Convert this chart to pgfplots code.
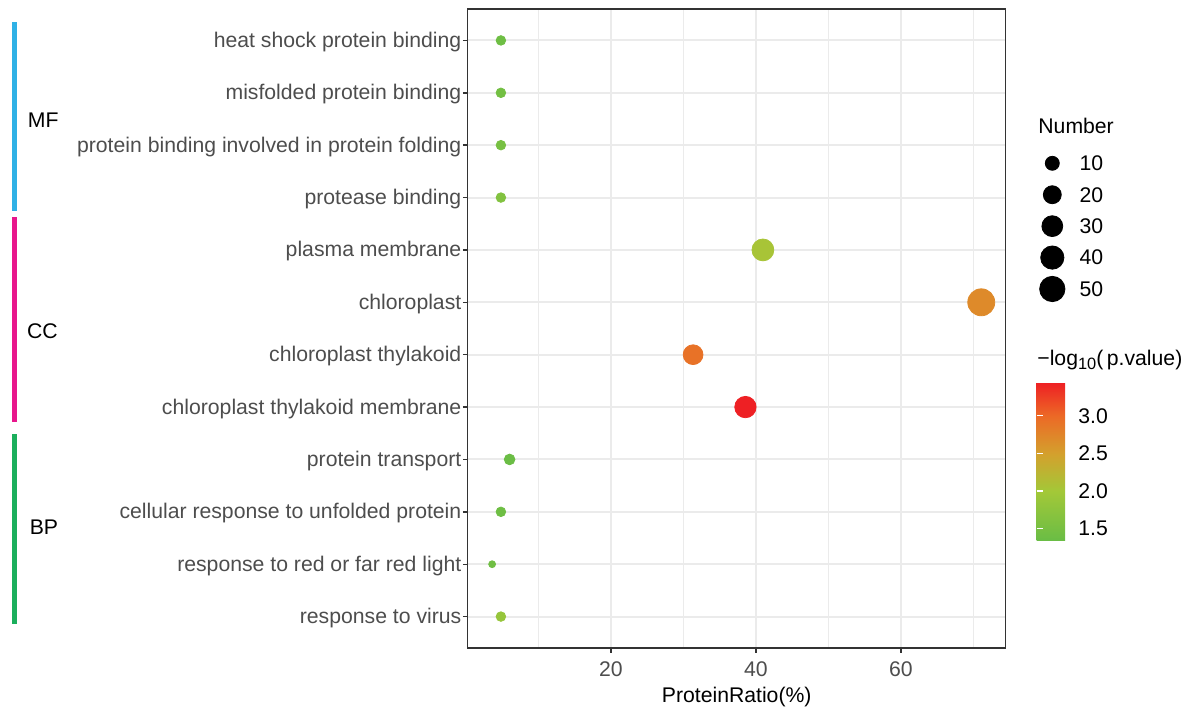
\documentclass[border=0pt]{standalone}
\usepackage{fontspec}
\setmainfont{Liberation Sans}
\usepackage{pgfplots}
\pgfplotsset{compat=1.18}
\usepackage{pgfplotstable}

\definecolor{gridgray}{HTML}{EBEBEB}
\definecolor{framegray}{HTML}{333333}
\definecolor{labelgray}{HTML}{4D4D4D}
\definecolor{mfblue}{HTML}{2FB1E6}
\definecolor{ccpink}{HTML}{E8168C}
\definecolor{bpgreen}{HTML}{1BAF5C}

\newcommand{\lbl}{\fontsize{10.6}{12}\selectfont}

% GO terms: y position, protein ratio (%), -log10(p), protein count
\pgfplotstableread{
y  ratio  logp  n
12 4.82   1.40  4
11 4.82   1.45  4
10 4.82   1.50  4
9  4.82   1.62  4
8  40.96  2.05  34
7  71.08  2.70  59
6  31.33  2.92  26
5  38.55  3.44  32
4  6.02   1.36  5
3  4.82   1.40  4
2  3.61   1.42  3
1  4.82   1.85  4
}\godata

% size key
\pgfplotstableread{
x n
0 10
0 20
0 30
0 40
0 50
}\sizekey

\pgfplotsset{
  sizemap/.style={
    visualization depends on={1.725+5.025*sqrt((\thisrow{n}-3)/56) \as \msize},
    scatter/@pre marker code/.append style={/tikz/mark size=\msize},
  },
}

\begin{document}
\begin{tikzpicture}
\begin{axis}[
  name=main,
  at={(233.85pt,-324pt)}, anchor=south west,
  scale only axis, width=269pt, height=319.5pt,
  xmin=0.24, xmax=74.45, ymin=0.4, ymax=12.6,
  xtick={20,40,60}, minor xtick={10,30,50,70},
  ytick={1,...,12},
  yticklabels={response to virus, response to red or far red light, cellular response to unfolded protein, protein transport, chloroplast thylakoid membrane, chloroplast thylakoid, chloroplast, plasma membrane, protease binding, protein binding involved in protein folding, misfolded protein binding, heat shock protein binding},
  xmajorgrids, xminorgrids, ymajorgrids,
  major grid style={gridgray, line width=1pt},
  minor grid style={gridgray, line width=0.5pt},
  axis line style={framegray, line width=0.75pt},
  tick align=outside, major tick length=2.4pt, minor tick length=0pt,
  tick style={framegray, line width=0.7pt},
  xtick pos=bottom, ytick pos=left,
  /pgf/number format/assume math mode=true,
  ticklabel style={font=\lbl, text=labelgray},
  yticklabel style={anchor=base east, inner sep=0pt, yshift=-3.5pt, xshift=-0.6pt},
  xticklabel style={anchor=north, inner sep=0pt, yshift=-4pt},
  xlabel={ProteinRatio(\%)},
  xlabel style={font=\lbl, at={(axis description cs:0.5,0)}, anchor=base, inner sep=0pt, yshift=-27pt},
  colormap={gored}{rgb255(0cm)=(106,189,69); rgb255(31cm)=(163,200,56); rgb255(55cm)=(212,160,45); rgb255(79cm)=(236,105,38); rgb255(100cm)=(238,32,36)},
  point meta min=1.35, point meta max=3.44,
  colorbar,
  colorbar style={
    at={(parent axis.north east)}, anchor=north west,
    xshift=6.9pt, yshift=-186.85pt,
    scale only axis, width=17.5pt, height=78.65pt,
    ytick={1.5,2,2.5,3},
    ytick pos=both, yticklabel pos=right,
    tick align=inside, major tick length=3pt,
    tick style={white, line width=0.6pt},
    axis line style={draw=none},
    yticklabel={\pgfmathprintnumber[fixed,fixed zerofill,precision=1,assume math mode=true]{\tick}},
    yticklabel style={font=\lbl, text=black, anchor=west, inner sep=0pt, xshift=3.2pt},
  },
  clip=false,
]
\addplot[scatter, only marks, mark=*,
  scatter/use mapped color={draw=mapped color, fill=mapped color},
  sizemap,
  point meta=explicit]
  table[x=ratio, y=y, meta=logp] {\godata};
\end{axis}

% size key
\begin{axis}[
  at={(521.15pt,-81.65pt)}, anchor=north west,
  scale only axis, width=10pt, height=62.85pt,
  xmin=-1, xmax=1, ymin=10, ymax=50, y dir=reverse,
  axis line style={draw=none}, major tick length=0pt, tick style={draw=none},
  xtick=\empty, ytick={10,20,30,40,50},
  ytick pos=right, yticklabel pos=right,
  /pgf/number format/assume math mode=true,
  yticklabel style={font=\lbl, text=black, anchor=west, inner sep=0pt, xshift=8.5pt},
  clip=false,
]
\addplot[scatter, only marks, mark=*,
  scatter/use mapped color={draw=black, fill=black},
  sizemap]
  table[x=x, y=n] {\sizekey};
\end{axis}

\begin{scope}[x=0.5pt, y=-0.5pt]
  \fill[mfblue] (11.7,22) rectangle (16.7,211);
  \fill[ccpink] (11.7,217.3) rectangle (16.7,422.3);
  \fill[bpgreen] (11.7,434.3) rectangle (16.7,624);
  \node[font=\lbl, anchor=base, inner sep=0pt] at (43.3,127.5) {MF};
  \node[font=\lbl, anchor=base, inner sep=0pt] at (42.5,338.5) {CC};
  \node[font=\lbl, anchor=base, inner sep=0pt] at (44,534) {BP};
  \node[font=\lbl, anchor=base west, inner sep=0pt] at (1038,134) {Number};
  \node[font=\lbl, anchor=base west, inner sep=0pt] at (1037,365)
    {−log\raisebox{-2.2pt}{\fontsize{8.2}{9}\selectfont 10}(\,p.value)};
\end{scope}

\pgfresetboundingbox
\path[use as bounding box] (0,0) rectangle (592pt,-355.5pt);
\end{tikzpicture}
\end{document}
